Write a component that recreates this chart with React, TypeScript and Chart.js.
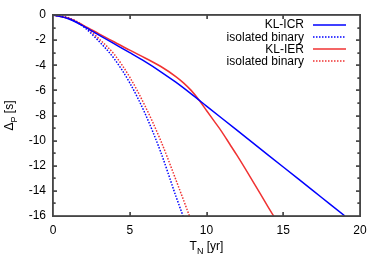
import React, { useEffect, useRef } from "react";
import { Chart, registerables } from "chart.js";

Chart.register(...registerables);

// ---- data ----
const icrX = [0, 1, 2, 3, 4, 5, 6, 7, 8, 9, 10, 11, 12, 13, 14, 15, 16, 17, 18, 19];
const icrY = [0, -0.3, -0.9, -1.6, -2.3, -3.0, -3.72, -4.5, -5.35, -6.28, -7.25, -8.22, -9.19, -10.16, -11.13, -12.1, -13.07, -14.04, -15.01, -15.98];

const icrIsoX = [0, 1, 2, 3, 4, 5, 6, 7, 8, 8.47];
const icrIsoY = [0, -0.25, -0.95, -2.1, -3.5, -5.4, -7.85, -10.85, -14.4, -16];

const ierX = [0, 1, 2, 3, 4, 5, 6, 7, 8, 8.5, 9, 9.5, 10, 10.5, 11, 11.5, 12, 13, 14, 14.4];
const ierY = [0, -0.26, -0.84, -1.5, -2.15, -2.8, -3.42, -4.08, -4.9, -5.4, -6.0, -6.75, -7.6, -8.45, -9.3, -10.25, -11.2, -13.2, -15.25, -16.05];

const ierIsoX = [0, 1, 2, 3, 4, 5, 6, 7, 8, 8.89];
const ierIsoY = [0, -0.22, -0.85, -1.9, -3.15, -4.95, -7.25, -9.95, -13.1, -16];

const seriesLabels = ["KL-ICR", "isolated binary", "KL-IER", "isolated binary"];
const xTickStep = 5;
const yTickStep = 2;
const yMinorStep = 1;
const xRange = [0, 20];
const yRange = [-16, 0];

const BLUE = "rgb(0,0,255)";
const RED = "rgb(240,50,50)";
const FRAME = "rgb(70,70,70)";
const FONT = '"Liberation Sans", Arial, sans-serif';

const pts = (xs: number[], ys: number[]) => xs.map((x, i) => ({ x, y: ys[i] }));

// frame + inward ticks, drawn on any 2D context using the chart's scales
function drawFrame(ctx: CanvasRenderingContext2D, chart: any) {
  const xs = chart.scales.x;
  const ys = chart.scales.y;
  const L = Math.round(xs.getPixelForValue(xRange[0]));
  const R = Math.round(xs.getPixelForValue(xRange[1]));
  const T = Math.round(ys.getPixelForValue(yRange[1]));
  const B = Math.round(ys.getPixelForValue(yRange[0]));
  ctx.save();
  ctx.setLineDash([]);
  ctx.globalAlpha = 1;
  ctx.fillStyle = FRAME;
  ctx.fillRect(L - 1, T - 1, R - L + 2, 1.6);
  ctx.fillRect(L - 1, B - 0.6, R - L + 2, 1.6);
  ctx.fillRect(L - 1, T - 1, 1.6, B - T + 2);
  ctx.fillRect(R - 0.6, T - 1, 1.6, B - T + 2);
  for (let v = xRange[0] + xTickStep; v < xRange[1]; v += xTickStep) {
    const px = Math.round(xs.getPixelForValue(v));
    ctx.fillRect(px - 0.5, B - 4, 1.3, 4);
    ctx.fillRect(px - 0.5, T, 1.3, 4);
  }
  for (let v = yRange[0] + yMinorStep; v < yRange[1]; v += yMinorStep) {
    const py = Math.round(ys.getPixelForValue(v));
    const len = Math.abs(v) % yTickStep === 0 ? 4 : 2.5;
    ctx.fillRect(L, py - 0.5, len, 1.3);
    ctx.fillRect(R - len, py - 0.5, len, 1.3);
  }
  ctx.restore();
}

const decorPlugin = {
  id: "decor",
  afterDraw(chart: any) {
    const ctx = chart.ctx;
    const ca = chart.chartArea;
    drawFrame(ctx, chart);
    ctx.save();
    // legend
    ctx.font = `12px ${FONT}`;
    ctx.textAlign = "right";
    ctx.textBaseline = "middle";
    chart.data.datasets.forEach((ds: any, i: number) => {
      const y = 24.5 + i * 12.3;
      ctx.fillStyle = "#000";
      ctx.fillText(ds.label, 304, y + 0.5);
      ctx.strokeStyle = ds.borderColor;
      ctx.lineWidth = ds.borderWidth;
      ctx.setLineDash(ds.borderDash || []);
      ctx.beginPath();
      ctx.moveTo(313, Math.round(y));
      ctx.lineTo(346, Math.round(y));
      ctx.stroke();
    });
    ctx.setLineDash([]);

    // axis titles
    ctx.fillStyle = "#000";
    ctx.textBaseline = "alphabetic";
    ctx.textAlign = "left";
    const big = `12px ${FONT}`;
    const small = `9px ${FONT}`;
    const drawSub = (main: string, sub: string, rest: string, cx: number, baseline: number) => {
      ctx.font = big;
      const w1 = ctx.measureText(main).width;
      const w3 = ctx.measureText(rest).width;
      ctx.font = small;
      const w2 = ctx.measureText(sub).width;
      let x = cx - (w1 + w2 + w3) / 2;
      ctx.font = big;
      ctx.fillText(main, x, baseline);
      x += w1;
      ctx.font = small;
      ctx.fillText(sub, x, baseline + 3.5);
      x += w2;
      ctx.font = big;
      ctx.fillText(rest, x, baseline);
    };
    drawSub("T", "N", " [yr]", (ca.left + ca.right) / 2, 250);
    ctx.translate(13, (ca.top + ca.bottom) / 2);
    ctx.rotate(-Math.PI / 2);
    drawSub("Δ", "P", " [s]", 0, 0);
    ctx.restore();
  },
};

export default function App() {
  const ref = useRef<HTMLCanvasElement>(null);
  const overlayRef = useRef<HTMLCanvasElement>(null);
  useEffect(() => {
    document.body.style.margin = "0";
    const canvas = ref.current!;
    const chart = new Chart(canvas, {
      type: "line",
      data: {
        datasets: [
          { label: seriesLabels[0], data: pts(icrX, icrY), borderColor: BLUE, borderWidth: 1.5, borderDash: [], pointRadius: 0, cubicInterpolationMode: "monotone" },
          { label: seriesLabels[1], data: pts(icrIsoX, icrIsoY), borderColor: BLUE, borderWidth: 1.5, borderDash: [1.5, 1.5], pointRadius: 0, cubicInterpolationMode: "monotone" },
          { label: seriesLabels[2], data: pts(ierX, ierY), borderColor: RED, borderWidth: 1.5, borderDash: [], pointRadius: 0, cubicInterpolationMode: "monotone" },
          { label: seriesLabels[3], data: pts(ierIsoX, ierIsoY), borderColor: RED, borderWidth: 1.5, borderDash: [1.5, 1.5], pointRadius: 0, cubicInterpolationMode: "monotone" },
        ] as any,
      },
      options: {
        animation: false,
        responsive: false,
        layout: { padding: { left: 0, right: 22, top: 15, bottom: 0 } },
        plugins: { legend: { display: false }, tooltip: { enabled: false } },
        scales: {
          x: {
            type: "linear",
            min: xRange[0],
            max: xRange[1],
            grid: { display: false, drawTicks: false },
            border: { display: false },
            ticks: { stepSize: xTickStep, color: "#000", font: { family: FONT, size: 12 }, padding: 7, maxRotation: 0 },
            afterFit: (s: any) => { s.height = 51; },
          },
          y: {
            type: "linear",
            min: yRange[0],
            max: yRange[1],
            grid: { display: false, drawTicks: false },
            border: { display: false },
            ticks: { stepSize: yTickStep, color: "#000", font: { family: FONT, size: 12 }, padding: 7 },
            afterFit: (s: any) => { s.width = 53; },
          },
        },
      },
      plugins: [decorPlugin],
    });
    // overlay canvas: frame drawn again on top, from the same scales
    const ov = overlayRef.current!;
    const octx = ov.getContext("2d")!;
    octx.clearRect(0, 0, ov.width, ov.height);
    drawFrame(octx, chart);
    return () => {
      octx.clearRect(0, 0, ov.width, ov.height);
      chart.destroy();
    };
  }, []);
  return (
    <div style={{ position: "absolute", left: 0, top: 0, width: 382, height: 267, background: "#fff" }}>
      <canvas ref={ref} width={382} height={267} style={{ position: "absolute", left: 0, top: 0 }} />
      <canvas ref={overlayRef} width={382} height={267} style={{ position: "absolute", left: 0, top: 0, pointerEvents: "none" }} />
    </div>
  );
}
